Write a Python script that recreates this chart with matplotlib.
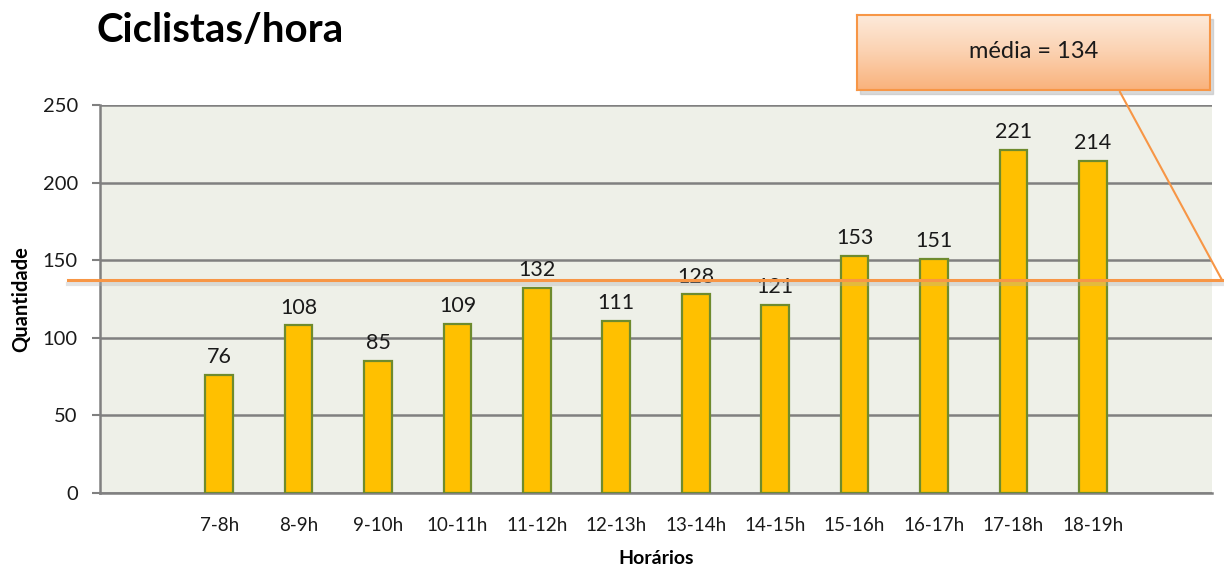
import numpy as np
import matplotlib.pyplot as plt
from matplotlib.lines import Line2D
from matplotlib.patches import Rectangle
from matplotlib.colors import LinearSegmentedColormap

# data
horarios = ['', '7-8h', '8-9h', '9-10h', '10-11h', '11-12h', '12-13h', '13-14h',
            '14-15h', '15-16h', '16-17h', '17-18h', '18-19h', '']
ciclistas = [0, 76, 108, 85, 109, 132, 111, 128, 121, 153, 151, 221, 214, 0]
media_txt = 134
media_linha = 137  # where the line sits in the picture
yticks = [0, 50, 100, 150, 200, 250]

plt.rcParams['font.family'] = ['Lato', 'DejaVu Sans']

W, H = 1224, 570
fig = plt.figure(figsize=(W / 100, H / 100), dpi=100)
ax = fig.add_axes([100 / W, 1 - 493 / H, 1112 / W, 388 / H])
ax.set_facecolor('#EEF0E8')

x = np.arange(len(horarios))
vals = np.array(ciclistas)
show = np.array([h != '' for h in horarios])
bars = ax.bar(x[show], vals[show], width=0.35, color='#FFC000',
              edgecolor='#6E8B2E', linewidth=1.6, zorder=3)
for xi, v in zip(x[show], vals[show]):
    ax.text(xi, v + 5, str(v), ha='center', va='bottom', fontsize=15.5,
            color='#1a1a1a', zorder=4)

ax.set_xlim(-0.5, len(horarios) - 0.5)
ax.set_ylim(0, 250)
ax.set_yticks(yticks)
ax.set_xticks(x)
ax.set_xticklabels(horarios, fontsize=13.5, color='#1a1a1a')
ax.tick_params(axis='x', length=0, pad=17)
ax.tick_params(axis='y', length=6, width=1.5, color='#808080', labelsize=14.5,
               labelcolor='#1a1a1a', pad=10)
ax.grid(axis='y', color='#808080', linewidth=1.8, zorder=1)
for s in ['top', 'right']:
    ax.spines[s].set_visible(False)
for s in ['left', 'bottom']:
    ax.spines[s].set_color('#808080')
    ax.spines[s].set_linewidth(1.8)

ax.set_ylabel('Quantidade', fontsize=14.5, fontweight='bold', labelpad=8)
ax.set_xlabel('Horários', fontsize=14, fontweight='bold', labelpad=12)

# mean line with a soft shadow
tr = ax.get_yaxis_transform()
x0, x1 = (68 - 100) / 1112, (1222 - 100) / 1112
ax.plot([x0, x1], [media_linha - 2.2, media_linha - 2.2], transform=tr,
        color='#b0b0b0', lw=3, alpha=0.35, clip_on=False, zorder=5)
ax.plot([x0, x1], [media_linha, media_linha], transform=tr,
        color='#F79646', lw=2.2, clip_on=False, zorder=6)

# callout box
bx0, bx1, by0, by1 = 857, 1210, 15, 90
shadow = Rectangle(((bx0 + 3) / W, 1 - (by1 + 4) / H), (bx1 - bx0) / W,
                   (by1 - by0) / H, transform=fig.transFigure,
                   color='#c0c0c0', alpha=0.6, zorder=-1)
fig.patches.append(shadow)
bax = fig.add_axes([bx0 / W, 1 - by1 / H, (bx1 - bx0) / W, (by1 - by0) / H])
bax.set_zorder(5)
grad = np.linspace(0, 1, 100).reshape(-1, 1)
cmap = LinearSegmentedColormap.from_list('peach', ['#FDEADA', '#FBD1B0', '#F9B27C'])
bax.imshow(grad, aspect='auto', cmap=cmap, extent=[0, 1, 0, 1], origin='upper')
bax.set_xticks([])
bax.set_yticks([])
for s in bax.spines.values():
    s.set_color('#F79646')
    s.set_linewidth(1.5)
bax.text(0.5, 0.52, 'média = %d' % media_txt, ha='center', va='center',
         fontsize=17, color='#1a1a1a', transform=bax.transAxes)

# pointer of the callout
fig.add_artist(Line2D([1120 / W, 1222 / W], [1 - 92 / H, 1 - 280 / H],
                      transform=fig.transFigure, color='#F79646', lw=1.5))

fig.text(97 / W, 1 - 30 / H, 'Ciclistas/hora', fontsize=29, fontweight='bold',
         ha='left', va='center', color='black')

fig.savefig('out.png', dpi=100)
